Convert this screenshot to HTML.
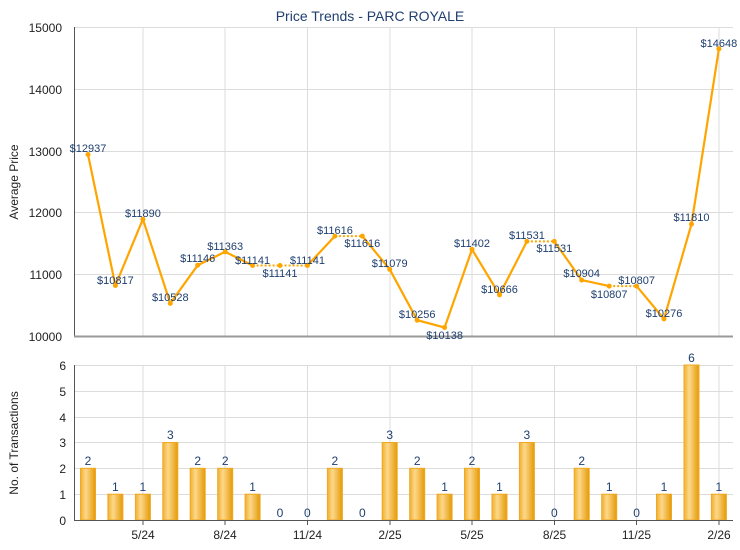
<!DOCTYPE html>
<html><head><meta charset="utf-8"><style>
html,body{margin:0;padding:0;background:#fff;}
svg{display:block;font-family:"Liberation Sans",Arial,sans-serif;}
</style></head><body>
<svg width="740" height="550" viewBox="0 0 740 550" xmlns="http://www.w3.org/2000/svg">
<defs>
<linearGradient id="bg" x1="0" x2="1" y1="0" y2="0">
<stop offset="0" stop-color="#f0b030"/><stop offset="0.35" stop-color="#fdd88a"/><stop offset="1" stop-color="#e49a08"/>
</linearGradient>
</defs>
<text x="370" y="21" text-anchor="middle" font-size="14" fill="#1f3f6f">Price Trends - PARC ROYALE</text>
<!-- top grid -->
<g stroke="#dcdcdc" stroke-width="1">
<line x1="74" y1="27.5" x2="733" y2="27.5"/><line x1="74" y1="89.5" x2="733" y2="89.5"/>
<line x1="74" y1="151.5" x2="733" y2="151.5"/><line x1="74" y1="212.5" x2="733" y2="212.5"/>
<line x1="74" y1="274.5" x2="733" y2="274.5"/>
<line x1="143" y1="27" x2="143" y2="336"/><line x1="225" y1="27" x2="225" y2="336"/>
<line x1="307.5" y1="27" x2="307.5" y2="336"/><line x1="390" y1="27" x2="390" y2="336"/>
<line x1="472" y1="27" x2="472" y2="336"/><line x1="554.5" y1="27" x2="554.5" y2="336"/>
<line x1="636.5" y1="27" x2="636.5" y2="336"/><line x1="719" y1="27" x2="719" y2="336"/>
</g>
<line x1="74.5" y1="27" x2="74.5" y2="337" stroke="#555" stroke-width="1"/>
<line x1="74" y1="336.5" x2="733" y2="336.5" stroke="#999" stroke-width="2"/>
<g font-size="12" fill="#222" text-anchor="end">
<text x="62" y="32">15000</text><text x="62" y="94">14000</text><text x="62" y="156">13000</text>
<text x="62" y="217">12000</text><text x="62" y="279">11000</text><text x="62" y="341">10000</text>
</g>
<text transform="translate(18,182) rotate(-90)" text-anchor="middle" font-size="12" fill="#222">Average Price</text>
<!-- lines -->
<g fill="none" stroke="#ffa500" stroke-width="2.2" stroke-linejoin="round">
<polyline points="88,154.5 115.4,285.5 142.9,219.2 170.3,303.4 197.7,265.2 225.2,251.8 252.6,265.5"/>
<polyline points="307.4,265.5 334.9,236.1"/>
<polyline points="362.3,236.1 389.7,269.3 417.2,320.2 444.6,327.5 472,249.4 499.5,294.8 526.9,241.4"/>
<polyline points="554.3,241.4 581.7,280.1 609.2,286.1"/>
<polyline points="636.6,286.1 664,318.9 691.5,224.1 718.9,48.8"/>
</g>
<g fill="none" stroke="#ffa500" stroke-width="2" stroke-dasharray="2,2">
<polyline points="252.6,265.5 280,265.5 307.4,265.5"/>
<polyline points="334.9,236.1 362.3,236.1"/>
<polyline points="526.9,241.4 554.3,241.4"/>
<polyline points="609.2,286.1 636.6,286.1"/>
</g>
<g fill="#ffa500">
<circle cx="88" cy="154.5" r="2.5"/><circle cx="115.4" cy="285.5" r="2.5"/><circle cx="142.9" cy="219.2" r="2.5"/>
<circle cx="170.3" cy="303.4" r="2.5"/><circle cx="197.7" cy="265.2" r="2.5"/><circle cx="225.2" cy="251.8" r="2.5"/>
<circle cx="252.6" cy="265.5" r="2.5"/><circle cx="280" cy="265.5" r="2.5"/><circle cx="307.4" cy="265.5" r="2.5"/>
<circle cx="334.9" cy="236.1" r="2.5"/><circle cx="362.3" cy="236.1" r="2.5"/><circle cx="389.7" cy="269.3" r="2.5"/>
<circle cx="417.2" cy="320.2" r="2.5"/><circle cx="444.6" cy="327.5" r="2.5"/><circle cx="472" cy="249.4" r="2.5"/>
<circle cx="499.5" cy="294.8" r="2.5"/><circle cx="526.9" cy="241.4" r="2.5"/><circle cx="554.3" cy="241.4" r="2.5"/>
<circle cx="581.7" cy="280.1" r="2.5"/><circle cx="609.2" cy="286.1" r="2.5"/><circle cx="636.6" cy="286.1" r="2.5"/>
<circle cx="664" cy="318.9" r="2.5"/><circle cx="691.5" cy="224.1" r="2.5"/><circle cx="718.9" cy="48.8" r="2.5"/>
</g>
<g font-size="11" fill="#1f3f6f" text-anchor="middle">
<text x="88" y="152">$12937</text>
<text x="115.4" y="284">$10817</text>
<text x="142.9" y="217">$11890</text>
<text x="170.3" y="301">$10528</text>
<text x="197.7" y="262">$11146</text>
<text x="225.2" y="250">$11363</text>
<text x="252.6" y="264">$11141</text>
<text x="280" y="277">$11141</text>
<text x="307.4" y="264">$11141</text>
<text x="334.9" y="234">$11616</text>
<text x="362.3" y="247">$11616</text>
<text x="389.7" y="267">$11079</text>
<text x="417.2" y="318">$10256</text>
<text x="444.6" y="339">$10138</text>
<text x="472" y="247">$11402</text>
<text x="499.5" y="293">$10666</text>
<text x="526.9" y="239">$11531</text>
<text x="554.3" y="252">$11531</text>
<text x="581.7" y="277">$10904</text>
<text x="609.2" y="298">$10807</text>
<text x="636.6" y="284">$10807</text>
<text x="664" y="317">$10276</text>
<text x="691.5" y="221">$11810</text>
<text x="718.9" y="47">$14648</text>
</g>
<!-- bottom chart -->
<g stroke="#dcdcdc" stroke-width="1">
<line x1="74" y1="365.5" x2="733" y2="365.5"/><line x1="74" y1="391.5" x2="733" y2="391.5"/>
<line x1="74" y1="417.5" x2="733" y2="417.5"/><line x1="74" y1="442.5" x2="733" y2="442.5"/>
<line x1="74" y1="468.5" x2="733" y2="468.5"/><line x1="74" y1="494.5" x2="733" y2="494.5"/>
<line x1="143" y1="365" x2="143" y2="520"/><line x1="225" y1="365" x2="225" y2="520"/>
<line x1="307.5" y1="365" x2="307.5" y2="520"/><line x1="390" y1="365" x2="390" y2="520"/>
<line x1="472" y1="365" x2="472" y2="520"/><line x1="554.5" y1="365" x2="554.5" y2="520"/>
<line x1="636.5" y1="365" x2="636.5" y2="520"/><line x1="719" y1="365" x2="719" y2="520"/>
</g>
<g fill="url(#bg)" stroke="#f0a820" stroke-width="1">
<rect x="80.5" y="468.3" width="15" height="51.7"/>
<rect x="107.9" y="494.2" width="15" height="25.8"/>
<rect x="135.4" y="494.2" width="15" height="25.8"/>
<rect x="162.8" y="442.5" width="15" height="77.5"/>
<rect x="190.2" y="468.3" width="15" height="51.7"/>
<rect x="217.7" y="468.3" width="15" height="51.7"/>
<rect x="245.1" y="494.2" width="15" height="25.8"/>
<rect x="327.4" y="468.3" width="15" height="51.7"/>
<rect x="382.2" y="442.5" width="15" height="77.5"/>
<rect x="409.7" y="468.3" width="15" height="51.7"/>
<rect x="437.1" y="494.2" width="15" height="25.8"/>
<rect x="464.5" y="468.3" width="15" height="51.7"/>
<rect x="492" y="494.2" width="15" height="25.8"/>
<rect x="519.4" y="442.5" width="15" height="77.5"/>
<rect x="574.2" y="468.3" width="15" height="51.7"/>
<rect x="601.7" y="494.2" width="15" height="25.8"/>
<rect x="656.5" y="494.2" width="15" height="25.8"/>
<rect x="684" y="365" width="15" height="155"/>
<rect x="711.4" y="494.2" width="15" height="25.8"/>
</g>
<line x1="74.5" y1="365" x2="74.5" y2="521" stroke="#555"/>
<line x1="74" y1="520.5" x2="733" y2="520.5" stroke="#555"/>
<g stroke="#555">
<line x1="143" y1="520" x2="143" y2="525"/><line x1="225" y1="520" x2="225" y2="525"/>
<line x1="307.5" y1="520" x2="307.5" y2="525"/><line x1="390" y1="520" x2="390" y2="525"/>
<line x1="472" y1="520" x2="472" y2="525"/><line x1="554.5" y1="520" x2="554.5" y2="525"/>
<line x1="636.5" y1="520" x2="636.5" y2="525"/><line x1="719" y1="520" x2="719" y2="525"/>
</g>
<g font-size="12" fill="#222" text-anchor="end">
<text x="66" y="370">6</text><text x="66" y="396">5</text><text x="66" y="422">4</text>
<text x="66" y="447">3</text><text x="66" y="473">2</text><text x="66" y="499">1</text><text x="66" y="525">0</text>
</g>
<text transform="translate(18,443) rotate(-90)" text-anchor="middle" font-size="12" fill="#222">No. of Transactions</text>
<g font-size="12" fill="#222" text-anchor="middle">
<text x="143" y="539">5/24</text><text x="225" y="539">8/24</text><text x="307.5" y="539">11/24</text>
<text x="390" y="539">2/25</text><text x="472" y="539">5/25</text><text x="554.5" y="539">8/25</text>
<text x="636.5" y="539">11/25</text><text x="719" y="539">2/26</text>
</g>
<g font-size="12" fill="#1f3f6f" text-anchor="middle">
<text x="88" y="465">2</text><text x="115.4" y="491">1</text><text x="142.9" y="491">1</text>
<text x="170.3" y="439">3</text><text x="197.7" y="465">2</text><text x="225.2" y="465">2</text>
<text x="252.6" y="491">1</text><text x="280" y="517">0</text><text x="307.4" y="517">0</text>
<text x="334.9" y="465">2</text><text x="362.3" y="517">0</text><text x="389.7" y="439">3</text>
<text x="417.2" y="465">2</text><text x="444.6" y="491">1</text><text x="472" y="465">2</text>
<text x="499.5" y="491">1</text><text x="526.9" y="439">3</text><text x="554.3" y="517">0</text>
<text x="581.7" y="465">2</text><text x="609.2" y="491">1</text><text x="636.6" y="517">0</text>
<text x="664" y="491">1</text><text x="691.5" y="362">6</text><text x="718.9" y="491">1</text>
</g>
</svg>
</body></html>
